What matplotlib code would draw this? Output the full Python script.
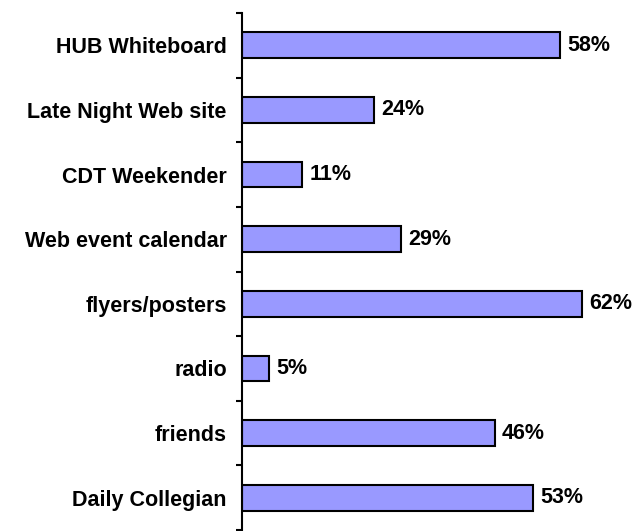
import matplotlib.pyplot as plt
import numpy as np

categories = ['HUB Whiteboard', 'Late Night Web site', 'CDT Weekender', 'Web event calendar',
              'flyers/posters', 'radio', 'friends', 'Daily Collegian']
values = [58, 24, 11, 29, 62, 5, 46, 53]

plt.rcParams['font.family'] = ['Liberation Sans', 'DejaVu Sans']
plt.rcParams['font.weight'] = 'bold'

fig = plt.figure(figsize=(6.36, 5.31), dpi=100)
px_per_pct = 5.49
ax = fig.add_axes([242 / 636, 1 / 531, 70 * px_per_pct / 636, 517 / 531])

y = np.arange(len(categories))
ax.barh(y, values, height=0.4, color='#9999FF', edgecolor='black', linewidth=1.5)
for yi, v in zip(y, values):
    ax.text(v + 1.3, yi, f'{v}%', va='center', ha='left', fontsize=15.5, fontweight='bold')

ax.set_xlim(0, 70)
ax.set_ylim(len(categories) - 0.5, -0.5)
ax.set_yticks(y)
ax.set_yticklabels(categories, fontsize=15.5, fontweight='bold')
ax.set_yticks(np.arange(-0.5, len(categories)), minor=True)
ax.tick_params(axis='y', which='major', length=0, pad=11)
ax.tick_params(axis='y', which='minor', length=4.5, width=1.5, direction='out')
ax.set_xticks([])
for s in ['top', 'right', 'bottom']:
    ax.spines[s].set_visible(False)
ax.spines['left'].set_linewidth(1.5)

fig.savefig('out.png', dpi=100)
